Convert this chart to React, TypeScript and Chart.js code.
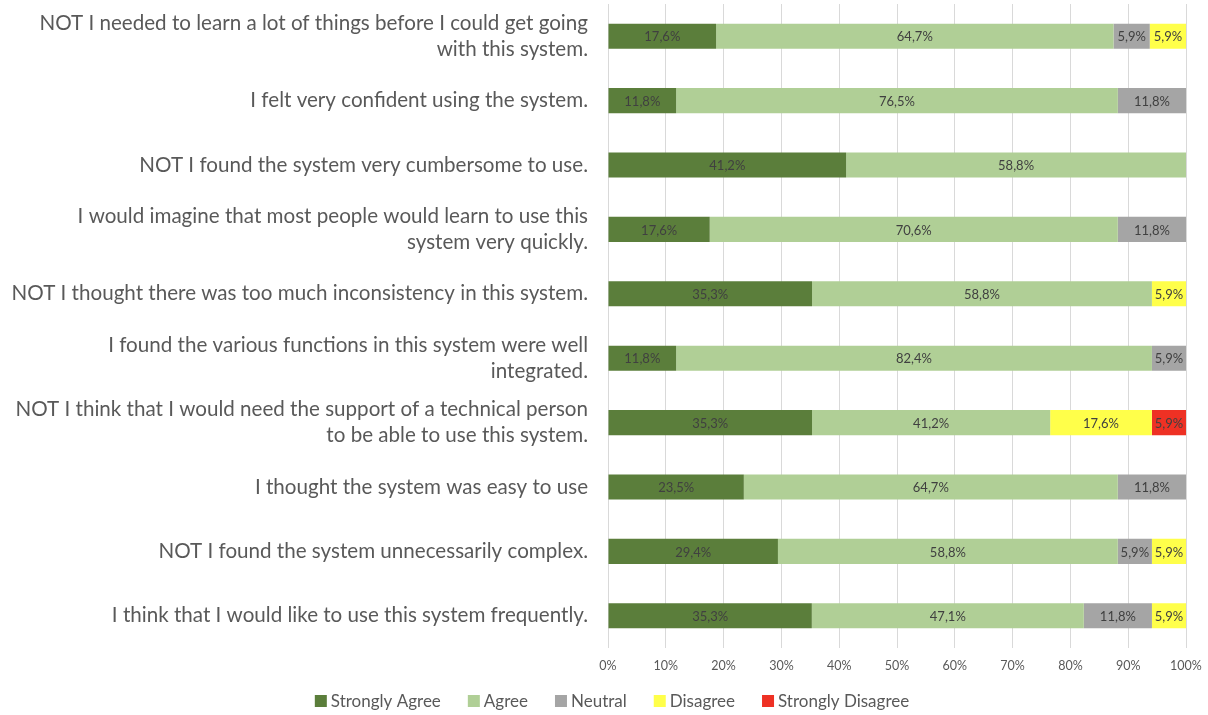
import React, { useEffect, useRef } from "react";
import { Chart, registerables } from "chart.js";

Chart.register(...registerables);

const categories: (string | string[])[] = [
  ["NOT I needed to learn a lot of things before I could get going", "with this system."],
  "I felt very confident using the system.",
  "NOT I found the system very cumbersome to use.",
  ["I would imagine that most people would learn to use this", "system very quickly."],
  "NOT I thought there was too much inconsistency in this system.",
  ["I found the various functions in this system were well", "integrated."],
  ["NOT I think that I would need the support of a technical person", "to be able to use this system."],
  "I thought the system was easy to use",
  "NOT I found the system unnecessarily complex.",
  "I think that I would like to use this system frequently.",
];

const stronglyAgree = [17.6, 11.8, 41.2, 17.6, 35.3, 11.8, 35.3, 23.5, 29.4, 35.3];
const agree = [64.7, 76.5, 58.8, 70.6, 58.8, 82.4, 41.2, 64.7, 58.8, 47.1];
const neutral = [5.9, 11.8, 0, 11.8, 0, 5.9, 0, 11.8, 5.9, 11.8];
const disagree = [5.9, 0, 0, 0, 5.9, 0, 17.6, 0, 5.9, 5.9];
const stronglyDisagree = [0, 0, 0, 0, 0, 0, 5.9, 0, 0, 0];

const seriesNames = ["Strongly Agree", "Agree", "Neutral", "Disagree", "Strongly Disagree"];
const seriesColors = ["#5B7E3B", "#B0CF96", "#A5A5A5", "#FFFF4A", "#EE3124"];
const tickValues = [0, 10, 20, 30, 40, 50, 60, 70, 80, 90, 100];

const FONT = "Lato, 'Open Sans', sans-serif";

export default function App() {
  const ref = useRef<HTMLCanvasElement | null>(null);

  useEffect(() => {
    if (!ref.current) return;
    const raw = [stronglyAgree, agree, neutral, disagree, stronglyDisagree];
    const totals = categories.map((_, i) => raw.reduce((s, arr) => s + arr[i], 0));

    const labelPlugin = {
      id: "barLabels",
      afterDatasetsDraw(chart: any) {
        const ctx = chart.ctx;
        ctx.save();
        ctx.font = `13px ${FONT}`;
        ctx.fillStyle = "#404040";
        ctx.textAlign = "center";
        ctx.textBaseline = "middle";
        chart.data.datasets.forEach((ds: any, di: number) => {
          const meta = chart.getDatasetMeta(di);
          meta.data.forEach((el: any, i: number) => {
            const v = ds.rawValues[i];
            if (!v) return;
            const cx = (el.x + el.base) / 2;
            ctx.fillText(v.toFixed(1).replace(".", ",") + "%", cx, el.y + 1);
          });
        });
        ctx.restore();
      },
    };

    const legendPlugin = {
      id: "bottomLegend",
      afterDraw(chart: any) {
        const ctx = chart.ctx;
        ctx.save();
        ctx.font = `17px ${FONT}`;
        ctx.textBaseline = "middle";
        ctx.textAlign = "left";
        const box = 12;
        const gap = 4;
        const spacing = 27;
        const items = chart.data.datasets.map((ds: any) => ({
          label: ds.label,
          color: ds.backgroundColor,
          w: box + gap + ctx.measureText(ds.label).width,
        }));
        const total = items.reduce((s: number, it: any) => s + it.w, 0) + spacing * (items.length - 1);
        let x = 612 - total / 2;
        const y = 701;
        items.forEach((it: any) => {
          ctx.fillStyle = it.color;
          ctx.fillRect(x, y - box / 2, box, box);
          ctx.fillStyle = "#595959";
          ctx.fillText(it.label, x + box + gap, y + 1);
          x += it.w + spacing;
        });
        ctx.restore();
      },
    };

    const chart = new Chart(ref.current, {
      type: "bar",
      data: {
        labels: categories,
        datasets: raw.map((arr, k) => ({
          label: seriesNames[k],
          data: arr.map((v, i) => (v / totals[i]) * 100),
          rawValues: arr,
          backgroundColor: seriesColors[k],
          borderWidth: 0,
          barPercentage: 0.78,
          categoryPercentage: 0.5,
        })) as any,
      },
      options: {
        indexAxis: "y",
        animation: false,
        responsive: false,
        maintainAspectRatio: false,
        layout: { padding: { top: 4, right: 22, bottom: 32, left: 0 } },
        scales: {
          x: {
            stacked: true,
            min: 0,
            max: 100,
            afterBuildTicks(scale: any) {
              scale.ticks = tickValues.map((v) => ({ value: v }));
            },
            afterFit(scale: any) {
              scale.paddingRight = 0;
              scale.paddingLeft = 0;
            },
            ticks: {
              callback: (v: any) => v + "%",
              color: "#595959",
              font: { size: 12.5, family: FONT },
              padding: 10,
              maxRotation: 0,
            },
            grid: { color: "#D9D9D9", drawTicks: false },
            border: { display: false },
          },
          y: {
            stacked: true,
            afterFit(scale: any) {
              scale.width = 608;
              scale.paddingTop = 0;
              scale.paddingBottom = 0;
            },
            ticks: {
              color: "#595959",
              font: { size: 20.6, family: FONT, lineHeight: 1.26 },
              padding: 20,
              autoSkip: false,
            },
            grid: { display: false, drawTicks: false },
            border: { display: false },
          },
        },
        plugins: {
          legend: { display: false },
          tooltip: { enabled: false },
        },
      },
      plugins: [labelPlugin, legendPlugin],
    });
    return () => chart.destroy();
  }, []);

  return (
    <div style={{ position: "fixed", left: 0, top: 0, width: 1208, height: 715, background: "#fff" }}>
      <canvas ref={ref} width={1208} height={715} style={{ width: 1208, height: 715 }} />
    </div>
  );
}
